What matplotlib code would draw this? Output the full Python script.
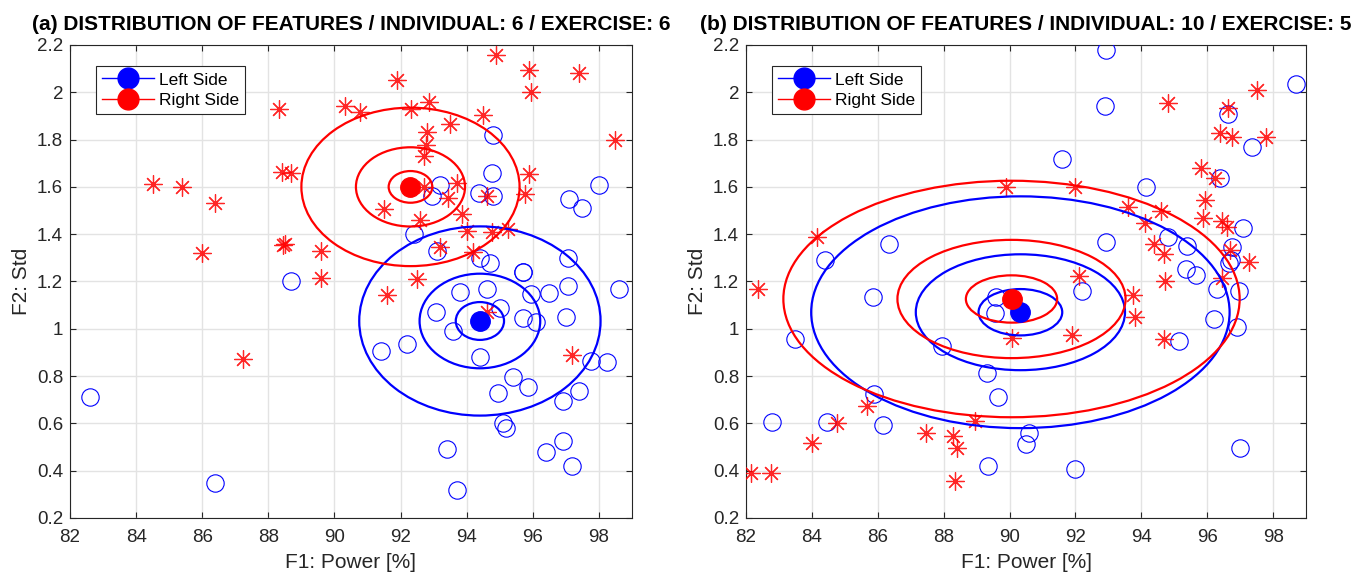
import matplotlib.pyplot as plt
import matplotlib as mpl
from matplotlib.patches import Ellipse
from matplotlib.lines import Line2D

mpl.rcParams['font.family'] = ['Liberation Sans', 'DejaVu Sans']
plt.rcParams['font.size'] = 13
plt.rcParams['axes.linewidth'] = 0.8

# (a) individual 6 / exercise 6
a_left_x = [82.6, 86.4, 88.7, 94.8, 94.76, 94.36, 94.8, 93.18, 92.94, 97.1, 97.5, 98.0,
            92.4, 93.1, 94.4, 94.7, 95.7, 97.06, 98.6, 97.06, 96.5, 95.95, 95.7, 96.1,
            97.0, 95.7, 94.6, 93.8, 93.06, 93.6, 95.0, 94.4, 91.4, 92.2, 95.4, 95.85,
            94.94, 97.4, 96.9, 97.76, 98.24, 95.1, 95.2, 93.4, 96.4, 96.9, 97.2, 93.7]
a_left_y = [0.71, 0.35, 1.20, 1.82, 1.66, 1.575, 1.56, 1.61, 1.56, 1.55, 1.51, 1.61,
            1.40, 1.33, 1.30, 1.28, 1.24, 1.30, 1.17, 1.18, 1.15, 1.147, 1.045, 1.03,
            1.05, 1.24, 1.17, 1.155, 1.07, 0.99, 1.09, 0.88, 0.906, 0.935, 0.796, 0.754,
            0.73, 0.737, 0.695, 0.864, 0.86, 0.60, 0.58, 0.49, 0.48, 0.525, 0.42, 0.32]
a_right_x = [88.33, 90.33, 90.76, 84.5, 85.4, 86.4, 88.4, 88.7, 86.0, 88.45, 88.5, 89.6,
             89.6, 87.24, 94.9, 95.9, 95.94, 97.4, 91.9, 92.33, 92.85, 94.5, 93.5, 92.8,
             92.76, 92.72, 98.5, 95.9, 95.76, 93.7, 93.45, 94.6, 92.7, 91.5, 92.6, 93.85,
             94.0, 94.76, 95.24, 93.2, 94.2, 92.5, 91.6, 97.2, 94.6]
a_right_y = [1.93, 1.94, 1.917, 1.612, 1.60, 1.53, 1.663, 1.66, 1.32, 1.354, 1.36, 1.33,
             1.215, 0.872, 2.158, 2.094, 2.00, 2.08, 2.05, 1.93, 1.96, 1.905, 1.866, 1.83,
             1.777, 1.73, 1.80, 1.654, 1.57, 1.616, 1.553, 1.56, 1.60, 1.507, 1.46, 1.485,
             1.413, 1.41, 1.42, 1.346, 1.325, 1.21, 1.143, 0.89, 1.07]
a_left_mean = (94.4, 1.033)
a_right_mean = (92.3, 1.60)
a_left_std = (0.73, 0.08)
a_right_std = (0.66, 0.067)

# (b) individual 10 / exercise 5
b_left_x = [86.33, 84.4, 92.94, 92.9, 98.7, 96.64, 97.36, 91.6, 96.4, 94.15, 92.94, 94.8,
            95.4, 97.1, 96.76, 96.73, 95.36, 95.67, 92.2, 96.3, 96.97, 96.2, 96.9, 95.15,
            96.67, 90.6, 90.5, 92.0, 97.0, 83.5, 85.85, 87.94, 89.33, 89.64, 85.9, 82.8,
            84.45, 86.15, 89.36, 89.6, 89.55]
b_left_y = [1.358, 1.29, 2.18, 1.94, 2.035, 1.91, 1.77, 1.72, 1.638, 1.60, 1.367, 1.39,
            1.35, 1.426, 1.346, 1.29, 1.253, 1.227, 1.16, 1.17, 1.16, 1.04, 1.008, 0.948,
            1.28, 0.56, 0.512, 0.407, 0.496, 0.957, 1.134, 0.927, 0.813, 0.712, 0.724, 0.606,
            0.606, 0.593, 0.42, 1.134, 1.067]
b_right_x = [84.15, 89.9, 97.5, 94.8, 96.64, 96.4, 96.76, 97.8, 95.8, 96.24, 95.94, 95.88,
             96.45, 96.6, 92.0, 93.6, 94.6, 94.1, 94.4, 94.7, 96.7, 97.27, 92.1, 93.76,
             93.82, 91.9, 94.7, 94.73, 96.45, 82.37, 85.67, 84.76, 84.0, 82.15, 82.76, 87.45,
             88.27, 88.42, 88.33, 88.94, 90.06]
b_right_y = [1.388, 1.60, 2.01, 1.955, 1.933, 1.828, 1.81, 1.81, 1.68, 1.638, 1.545, 1.47,
             1.456, 1.43, 1.60, 1.515, 1.50, 1.447, 1.36, 1.316, 1.333, 1.282, 1.223, 1.143,
             1.05, 0.974, 0.957, 1.202, 1.215, 1.168, 0.674, 0.602, 0.517, 0.39, 0.39, 0.56,
             0.547, 0.496, 0.356, 0.61, 0.96]
b_left_mean = (90.33, 1.07)
b_right_mean = (90.06, 1.126)
b_left_std = (1.27, 0.098)
b_right_std = (1.385, 0.10)

ellipse_scales = [1, 2.5, 5]
x_ticks = [82, 84, 86, 88, 90, 92, 94, 96, 98]
y_ticks = [0.2, 0.4, 0.6, 0.8, 1.0, 1.2, 1.4, 1.6, 1.8, 2.0, 2.2]
y_ticklabels = ['0.2', '0.4', '0.6', '0.8', '1', '1.2', '1.4', '1.6', '1.8', '2', '2.2']

panels = [
    ('(a) DISTRIBUTION OF FEATURES / INDIVIDUAL: 6 / EXERCISE: 6',
     a_left_x, a_left_y, a_right_x, a_right_y, a_left_mean, a_right_mean, a_left_std, a_right_std),
    ('(b) DISTRIBUTION OF FEATURES / INDIVIDUAL: 10 / EXERCISE: 5',
     b_left_x, b_left_y, b_right_x, b_right_y, b_left_mean, b_right_mean, b_left_std, b_right_std),
]

fig = plt.figure(figsize=(13.67, 5.76), dpi=100)
axes = [fig.add_axes([0.0512, 0.1007, 0.4111, 0.8212]),
        fig.add_axes([0.5457, 0.1007, 0.4097, 0.8212])]

asterisk = (8, 2, 0)

for ax, (title, lx, ly, rx, ry, lm, rm, ls, rs) in zip(axes, panels):
    ax.set_xlim(82, 99)
    ax.set_ylim(0.2, 2.2)
    ax.grid(color='#e3e3e3', linewidth=1)
    ax.set_axisbelow(True)

    ax.plot(lx, ly, linestyle='none', marker='o', markersize=12.5, markerfacecolor='none',
            markeredgecolor='blue', markeredgewidth=0.8, zorder=3)
    ax.plot(rx, ry, linestyle='none', marker=asterisk, markersize=13, color='red',
            markeredgewidth=0.9, alpha=0.85, zorder=3)

    for mean, std, col in [(lm, ls, 'blue'), (rm, rs, 'red')]:
        for k in ellipse_scales:
            ax.add_patch(Ellipse(mean, 2 * k * std[0], 2 * k * std[1], fill=False,
                                 edgecolor=col, linewidth=1.6, zorder=4))

    ax.plot(lm[0], lm[1], marker='o', markersize=14, color='blue', zorder=5)
    ax.plot(rm[0], rm[1], marker='o', markersize=14, color='red', zorder=5)

    ax.set_xticks(x_ticks)
    ax.set_yticks(y_ticks)
    ax.set_yticklabels(y_ticklabels)
    ax.tick_params(direction='in', top=True, right=True, length=4.5, width=0.8,
                   colors='#262626', labelsize=13.5)
    ax.tick_params(axis='x', pad=8)
    ax.tick_params(axis='y', pad=5)
    for s in ax.spines.values():
        s.set_color('#262626')

    ax.set_xlabel('F1: Power [%]', fontsize=15, color='#262626', labelpad=5)
    ax.set_ylabel('F2: Std', fontsize=15, color='#262626', labelpad=4)
    ax.set_title(title, fontsize=15, fontweight='bold', pad=11)

    handles = [Line2D([], [], color='blue', linewidth=1, marker='o', markersize=15),
               Line2D([], [], color='red', linewidth=1, marker='o', markersize=15)]
    leg = ax.legend(handles, ['Left Side', 'Right Side'], loc='upper left',
                    bbox_to_anchor=(0.046, 0.955), fontsize=12.5, fancybox=False,
                    framealpha=1, edgecolor='#262626', borderpad=0.35, labelspacing=0.3,
                    handlelength=3.0, handletextpad=0.3, borderaxespad=0)
    leg.get_frame().set_linewidth(0.8)

plt.savefig('out.png', dpi=100)
